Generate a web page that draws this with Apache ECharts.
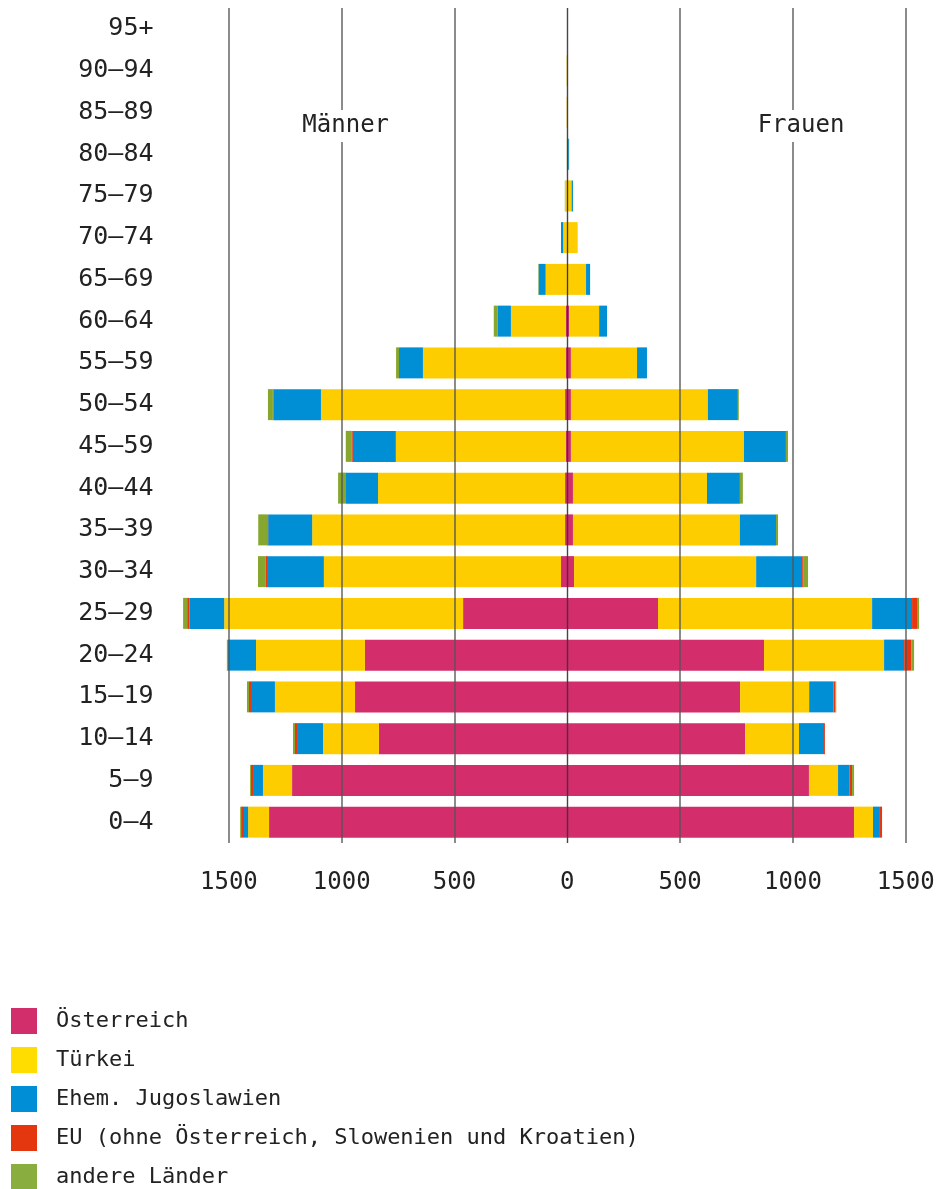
<!DOCTYPE html>
<html>
<head>
<meta charset="utf-8">
<script src="https://cdn.jsdelivr.net/npm/echarts@6/dist/echarts.min.js"></script>
<style>
html,body{margin:0;padding:0;background:#fff;}
#chart{width:939px;height:1189px;}
</style>
</head>
<body>
<div id="chart"></div>
<script>
// Age groups, bottom to top
const categories = ['0–4','5–9','10–14','15–19','20–24','25–29','30–34','35–39','40–44','45–59','50–54','55–59','60–64','65–69','70–74','75–79','80–84','85–89','90–94','95+'];

const seriesNames = ['Österreich','Türkei','Ehem. Jugoslawien','EU (ohne Österreich, Slowenien und Kroatien)','andere Länder'];

// Männer
const maleAT    = [1322,1220,835,941,897,462,28,10,10,6,10,6,6,2,2,2,0,0,0,0];
const maleTR    = [93,129,248,355,483,1059,1051,1121,829,754,1082,634,244,94,16,8,2,3,3,0];
const maleYU    = [18,44,115,106,124,154,248,195,142,191,210,106,58,31,10,0,0,0,0,0];
const maleEU    = [13,9,9,9,3,10,9,4,0,4,3,0,0,0,0,0,0,0,0,0];
const maleOther = [4,4,9,9,2,18,35,40,35,27,22,13,18,2,0,1,0,0,0,0];

// Frauen
const femaleAT    = [1271,1071,788,766,872,402,30,25,25,16,16,16,8,3,3,3,0,0,0,0];
const femaleTR    = [84,129,239,306,532,949,807,740,594,767,607,293,133,80,43,16,4,2,3,0];
const femaleYU    = [27,50,111,108,89,177,204,160,146,186,133,44,35,18,0,6,4,0,0,0];
const femaleEU    = [13,12,4,8,31,22,4,0,0,0,0,0,0,0,0,0,0,0,0,0];
const femaleOther = [0,9,0,4,13,9,22,9,13,9,4,0,0,0,0,0,0,0,0,0];

const gridValues = [-1500,-1000,-500,0,500,1000,1500];

const barColors    = ['#D32D6C','#FDCD00','#008ED5','#E6370F','#86A62D'];
const legendColors = ['#D22E6B','#FFDD00','#008FD7','#E5370F','#8AAD3F'];

const FONT = '"DejaVu Sans Mono", monospace';

const maleData = [maleAT, maleTR, maleYU, maleEU, maleOther];
const femaleData = [femaleAT, femaleTR, femaleYU, femaleEU, femaleOther];

const series = [];
maleData.forEach((arr, i) => {
  series.push({
    name: seriesNames[i], type: 'bar', stack: 'male', barWidth: 31, barGap: '-100%',
    itemStyle: { color: barColors[i] },
    data: arr.map(v => -v)
  });
});
femaleData.forEach((arr, i) => {
  series.push({
    name: seriesNames[i], type: 'bar', stack: 'female', barWidth: 31, barGap: '-100%',
    itemStyle: { color: barColors[i] },
    data: arr.slice()
  });
});
// vertical grid lines drawn above bars
series[0].markLine = {
  silent: true, symbol: 'none', z: 20,
  label: { show: false },
  lineStyle: { color: 'rgba(85,85,85,0.85)', width: 1.6, type: 'solid' },
  data: gridValues.map(v => ({
    xAxis: v,
    lineStyle: v === 0 ? { color: 'rgba(50,50,50,0.9)', width: 1.4, type: 'solid' } : undefined
  }))
};

const chart = echarts.init(document.getElementById('chart'), null, { renderer: 'canvas' });
chart.setOption({
  animation: false,
  backgroundColor: '#fff',
  grid: { left: 172.5, right: 10.7, top: 8, bottom: 346, containLabel: false },
  xAxis: {
    type: 'value', min: -1750, max: 1600, interval: 250,
    axisLine: { show: false }, axisTick: { show: false }, splitLine: { show: false },
    axisLabel: {
      margin: 28, fontFamily: FONT, fontSize: 24, color: '#222',
      formatter: v => (v % 500 === 0 ? String(Math.abs(v)) : '')
    }
  },
  yAxis: {
    type: 'category', data: categories,
    axisLine: { show: false }, axisTick: { show: false },
    axisLabel: { margin: 19, fontFamily: FONT, fontSize: 25, color: '#222', padding: [5, 0, 0, 0] }
  },
  legend: {
    orient: 'vertical', left: 11, top: 1008, padding: 0, height: 200,
    itemWidth: 26, itemHeight: 26, itemGap: 13, icon: 'rect',
    selectedMode: false,
    textStyle: { fontFamily: FONT, fontSize: 22, color: '#222', padding: [0, 0, 0, 14], lineHeight: 26 },
    data: seriesNames.map((n, i) => ({ name: n, itemStyle: { color: legendColors[i] } }))
  },
  graphic: [
    { type: 'text', x: 345.7, y: 126, z: 100,
      style: { text: 'Männer', font: '24px ' + FONT, fill: '#222', align: 'center', verticalAlign: 'middle',
               backgroundColor: '#fff', padding: [4, 3] } },
    { type: 'text', x: 801, y: 126, z: 100,
      style: { text: 'Frauen', font: '24px ' + FONT, fill: '#222', align: 'center', verticalAlign: 'middle',
               backgroundColor: '#fff', padding: [4, 3] } }
  ],
  series: series
});
</script>
</body>
</html>
